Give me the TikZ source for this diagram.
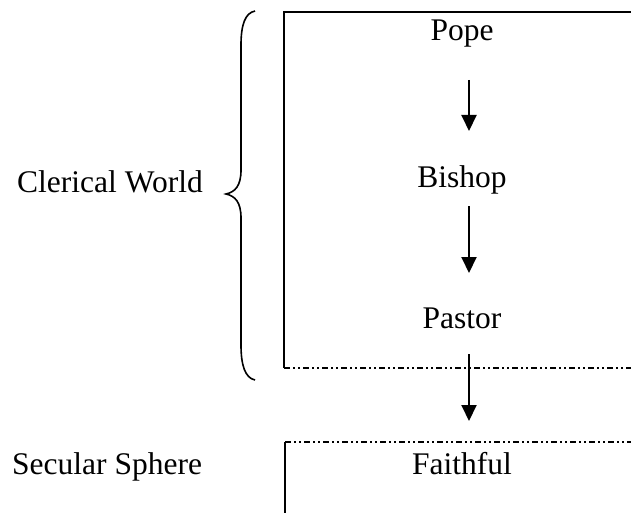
\documentclass[tikz,border=0pt]{standalone}
\usepackage{fontspec}
\setmainfont{Liberation Serif}
\usetikzlibrary{arrows.meta}
\begin{document}
\begin{tikzpicture}[x=1pt,y=-1pt,
  lbl/.style={font=\fontsize{31.5}{36}\selectfont, inner sep=0pt, anchor=base},
  frame/.style={line width=2pt},
  dashdot/.style={line width=2pt, dash pattern=on 6pt off 3pt on 2pt off 3pt on 2pt off 3pt},
  flow/.style={line width=2pt, -{Triangle[length=16pt,width=15pt]}},
  brace/.style={line width=1.6pt}]
\useasboundingbox (0,0) rectangle (631,513);
% texts
\node[lbl] (pope) at (462,41) {Pope};
\node[lbl] (bishop) at (462,187) {Bishop};
\node[lbl] (pastor) at (462,328) {Pastor};
\node[lbl] (faithful) at (462,474) {Faithful};
\node[lbl, anchor=base west] (clerical) at (17,193) {Clerical World};
\node[lbl, anchor=base west] (secular) at (12,474) {Secular Sphere};
% frames
\coordinate (b1tr) at (640,12);
\coordinate (b1tl) at (284,12);
\coordinate (b1bl) at (284,368);
\coordinate (b1br) at (640,368);
\draw[frame] (b1tr) -- (b1tl) -- (b1bl);
\draw[dashdot] (b1bl) -- (b1br);
\coordinate (b2tl) at (285,442);
\coordinate (b2tr) at (640,442);
\coordinate (b2bl) at (285,520);
\draw[dashdot] (b2tl) -- (b2tr);
\draw[frame] (b2tl) -- (b2bl);
% arrows
\coordinate (a1s) at (469,80);
\coordinate (a1e) at (469,131);
\coordinate (a2s) at (469,206);
\coordinate (a2e) at (469,273);
\coordinate (a3s) at (469,354);
\coordinate (a3e) at (469,421);
\draw[flow] (a1s) -- (a1e);
\draw[flow] (a2s) -- (a2e);
\draw[flow] (a3s) -- (a3e);
% brace
\coordinate (brtop) at (255,11);
\coordinate (brtip) at (226,194);
\coordinate (brbot) at (255,380);
\draw[brace] (brtop) .. controls (245,13) and (241,25) .. (241,45) -- (241,170)
  .. controls (241,186) and (235,192) .. (brtip)
  .. controls (235,196) and (241,202) .. (241,218) -- (241,345)
  .. controls (241,365) and (245,378) .. (brbot);
\end{tikzpicture}
\end{document}
